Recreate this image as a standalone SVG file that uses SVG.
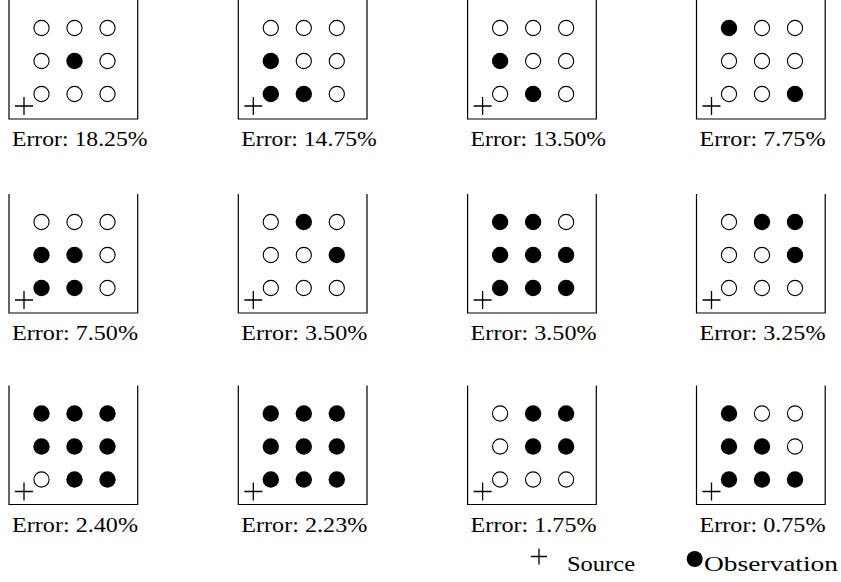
<svg xmlns="http://www.w3.org/2000/svg" xmlns:xlink="http://www.w3.org/1999/xlink" width="841" height="582" viewBox="0 0 841 582" font-family="'Liberation Serif', 'Times New Roman', 'DejaVu Serif', serif">
<style>
.box{fill:none;stroke:#000;stroke-width:1.2}
.o{fill:#fff;stroke:#000;stroke-width:1.1}
.f{fill:#000}
.src{fill:none;stroke:#000;stroke-width:1.3}
text{font-family:'Liberation Serif','Times New Roman','DejaVu Serif',serif;font-size:22px;fill:#000}
</style>
<defs>
<path id="box" class="box" d="M0,-119 V0 H128.7 V-119"/>
<path id="plus" class="src" d="M6,-13 H24 M15,-22 V-4"/>
<circle id="O" class="o" r="7.6"/>
<circle id="F" class="f" r="8.2"/>
</defs>
<rect width="841" height="582" fill="#fff"/>
<g id="connectors"/>

<g id="panel1" transform="translate(9,119)">
<use xlink:href="#box"/>
<use xlink:href="#O" x="32.5" y="-91"/><use xlink:href="#O" x="65.5" y="-91"/><use xlink:href="#O" x="98.5" y="-91"/>
<use xlink:href="#O" x="32.5" y="-58"/><use xlink:href="#F" x="65.5" y="-58"/><use xlink:href="#O" x="98.5" y="-58"/>
<use xlink:href="#O" x="32.5" y="-25"/><use xlink:href="#O" x="65.5" y="-25"/><use xlink:href="#O" x="98.5" y="-25"/>
<use xlink:href="#plus"/>
<text font-family="Liberation Serif" x="3" y="27" textLength="135.5" lengthAdjust="spacingAndGlyphs">Error: 18.25%</text>
</g>

<g id="panel2" transform="translate(238.3,119)">
<use xlink:href="#box"/>
<use xlink:href="#O" x="32.5" y="-91"/><use xlink:href="#O" x="65.5" y="-91"/><use xlink:href="#O" x="98.5" y="-91"/>
<use xlink:href="#F" x="32.5" y="-58"/><use xlink:href="#O" x="65.5" y="-58"/><use xlink:href="#O" x="98.5" y="-58"/>
<use xlink:href="#F" x="32.5" y="-25"/><use xlink:href="#F" x="65.5" y="-25"/><use xlink:href="#O" x="98.5" y="-25"/>
<use xlink:href="#plus"/>
<text font-family="Liberation Serif" x="3" y="27" textLength="135.5" lengthAdjust="spacingAndGlyphs">Error: 14.75%</text>
</g>

<g id="panel3" transform="translate(467.6,119)">
<use xlink:href="#box"/>
<use xlink:href="#O" x="32.5" y="-91"/><use xlink:href="#O" x="65.5" y="-91"/><use xlink:href="#O" x="98.5" y="-91"/>
<use xlink:href="#F" x="32.5" y="-58"/><use xlink:href="#O" x="65.5" y="-58"/><use xlink:href="#O" x="98.5" y="-58"/>
<use xlink:href="#O" x="32.5" y="-25"/><use xlink:href="#F" x="65.5" y="-25"/><use xlink:href="#O" x="98.5" y="-25"/>
<use xlink:href="#plus"/>
<text font-family="Liberation Serif" x="3" y="27" textLength="135.5" lengthAdjust="spacingAndGlyphs">Error: 13.50%</text>
</g>

<g id="panel4" transform="translate(696.5,119)">
<use xlink:href="#box"/>
<use xlink:href="#F" x="32.5" y="-91"/><use xlink:href="#O" x="65.5" y="-91"/><use xlink:href="#O" x="98.5" y="-91"/>
<use xlink:href="#O" x="32.5" y="-58"/><use xlink:href="#O" x="65.5" y="-58"/><use xlink:href="#O" x="98.5" y="-58"/>
<use xlink:href="#O" x="32.5" y="-25"/><use xlink:href="#O" x="65.5" y="-25"/><use xlink:href="#F" x="98.5" y="-25"/>
<use xlink:href="#plus"/>
<text font-family="Liberation Serif" x="3" y="27" textLength="126" lengthAdjust="spacingAndGlyphs">Error: 7.75%</text>
</g>

<g id="panel5" transform="translate(9,313)">
<use xlink:href="#box"/>
<use xlink:href="#O" x="32.5" y="-91"/><use xlink:href="#O" x="65.5" y="-91"/><use xlink:href="#O" x="98.5" y="-91"/>
<use xlink:href="#F" x="32.5" y="-58"/><use xlink:href="#F" x="65.5" y="-58"/><use xlink:href="#O" x="98.5" y="-58"/>
<use xlink:href="#F" x="32.5" y="-25"/><use xlink:href="#F" x="65.5" y="-25"/><use xlink:href="#O" x="98.5" y="-25"/>
<use xlink:href="#plus"/>
<text font-family="Liberation Serif" x="3" y="27" textLength="126" lengthAdjust="spacingAndGlyphs">Error: 7.50%</text>
</g>

<g id="panel6" transform="translate(238.3,313)">
<use xlink:href="#box"/>
<use xlink:href="#O" x="32.5" y="-91"/><use xlink:href="#F" x="65.5" y="-91"/><use xlink:href="#O" x="98.5" y="-91"/>
<use xlink:href="#O" x="32.5" y="-58"/><use xlink:href="#O" x="65.5" y="-58"/><use xlink:href="#F" x="98.5" y="-58"/>
<use xlink:href="#O" x="32.5" y="-25"/><use xlink:href="#O" x="65.5" y="-25"/><use xlink:href="#O" x="98.5" y="-25"/>
<use xlink:href="#plus"/>
<text font-family="Liberation Serif" x="3" y="27" textLength="126" lengthAdjust="spacingAndGlyphs">Error: 3.50%</text>
</g>

<g id="panel7" transform="translate(467.6,313)">
<use xlink:href="#box"/>
<use xlink:href="#F" x="32.5" y="-91"/><use xlink:href="#F" x="65.5" y="-91"/><use xlink:href="#O" x="98.5" y="-91"/>
<use xlink:href="#F" x="32.5" y="-58"/><use xlink:href="#F" x="65.5" y="-58"/><use xlink:href="#F" x="98.5" y="-58"/>
<use xlink:href="#F" x="32.5" y="-25"/><use xlink:href="#F" x="65.5" y="-25"/><use xlink:href="#F" x="98.5" y="-25"/>
<use xlink:href="#plus"/>
<text font-family="Liberation Serif" x="3" y="27" textLength="126" lengthAdjust="spacingAndGlyphs">Error: 3.50%</text>
</g>

<g id="panel8" transform="translate(696.5,313)">
<use xlink:href="#box"/>
<use xlink:href="#O" x="32.5" y="-91"/><use xlink:href="#F" x="65.5" y="-91"/><use xlink:href="#F" x="98.5" y="-91"/>
<use xlink:href="#O" x="32.5" y="-58"/><use xlink:href="#O" x="65.5" y="-58"/><use xlink:href="#F" x="98.5" y="-58"/>
<use xlink:href="#O" x="32.5" y="-25"/><use xlink:href="#O" x="65.5" y="-25"/><use xlink:href="#O" x="98.5" y="-25"/>
<use xlink:href="#plus"/>
<text font-family="Liberation Serif" x="3" y="27" textLength="126" lengthAdjust="spacingAndGlyphs">Error: 3.25%</text>
</g>

<g id="panel9" transform="translate(9,504.5)">
<use xlink:href="#box"/>
<use xlink:href="#F" x="32.5" y="-91"/><use xlink:href="#F" x="65.5" y="-91"/><use xlink:href="#F" x="98.5" y="-91"/>
<use xlink:href="#F" x="32.5" y="-58"/><use xlink:href="#F" x="65.5" y="-58"/><use xlink:href="#F" x="98.5" y="-58"/>
<use xlink:href="#O" x="32.5" y="-25"/><use xlink:href="#F" x="65.5" y="-25"/><use xlink:href="#F" x="98.5" y="-25"/>
<use xlink:href="#plus"/>
<text font-family="Liberation Serif" x="3" y="27" textLength="126" lengthAdjust="spacingAndGlyphs">Error: 2.40%</text>
</g>

<g id="panel10" transform="translate(238.3,504.5)">
<use xlink:href="#box"/>
<use xlink:href="#F" x="32.5" y="-91"/><use xlink:href="#F" x="65.5" y="-91"/><use xlink:href="#F" x="98.5" y="-91"/>
<use xlink:href="#F" x="32.5" y="-58"/><use xlink:href="#F" x="65.5" y="-58"/><use xlink:href="#F" x="98.5" y="-58"/>
<use xlink:href="#F" x="32.5" y="-25"/><use xlink:href="#F" x="65.5" y="-25"/><use xlink:href="#F" x="98.5" y="-25"/>
<use xlink:href="#plus"/>
<text font-family="Liberation Serif" x="3" y="27" textLength="126" lengthAdjust="spacingAndGlyphs">Error: 2.23%</text>
</g>

<g id="panel11" transform="translate(467.6,504.5)">
<use xlink:href="#box"/>
<use xlink:href="#O" x="32.5" y="-91"/><use xlink:href="#F" x="65.5" y="-91"/><use xlink:href="#F" x="98.5" y="-91"/>
<use xlink:href="#O" x="32.5" y="-58"/><use xlink:href="#F" x="65.5" y="-58"/><use xlink:href="#F" x="98.5" y="-58"/>
<use xlink:href="#O" x="32.5" y="-25"/><use xlink:href="#O" x="65.5" y="-25"/><use xlink:href="#O" x="98.5" y="-25"/>
<use xlink:href="#plus"/>
<text font-family="Liberation Serif" x="3" y="27" textLength="126" lengthAdjust="spacingAndGlyphs">Error: 1.75%</text>
</g>

<g id="panel12" transform="translate(696.5,504.5)">
<use xlink:href="#box"/>
<use xlink:href="#F" x="32.5" y="-91"/><use xlink:href="#O" x="65.5" y="-91"/><use xlink:href="#O" x="98.5" y="-91"/>
<use xlink:href="#F" x="32.5" y="-58"/><use xlink:href="#F" x="65.5" y="-58"/><use xlink:href="#O" x="98.5" y="-58"/>
<use xlink:href="#F" x="32.5" y="-25"/><use xlink:href="#F" x="65.5" y="-25"/><use xlink:href="#F" x="98.5" y="-25"/>
<use xlink:href="#plus"/>
<text font-family="Liberation Serif" x="3" y="27" textLength="126" lengthAdjust="spacingAndGlyphs">Error: 0.75%</text>
</g>

<g id="legend">
<path class="src" d="M531,556.5 H547 M539,548.5 V564.5"/>
<text font-family="Liberation Serif" x="567" y="571" textLength="68" lengthAdjust="spacingAndGlyphs">Source</text>
<circle class="f" cx="694.7" cy="559" r="8"/>
<text font-family="Liberation Serif" x="704" y="571" textLength="134" lengthAdjust="spacingAndGlyphs">Observation</text>
</g>
</svg>
